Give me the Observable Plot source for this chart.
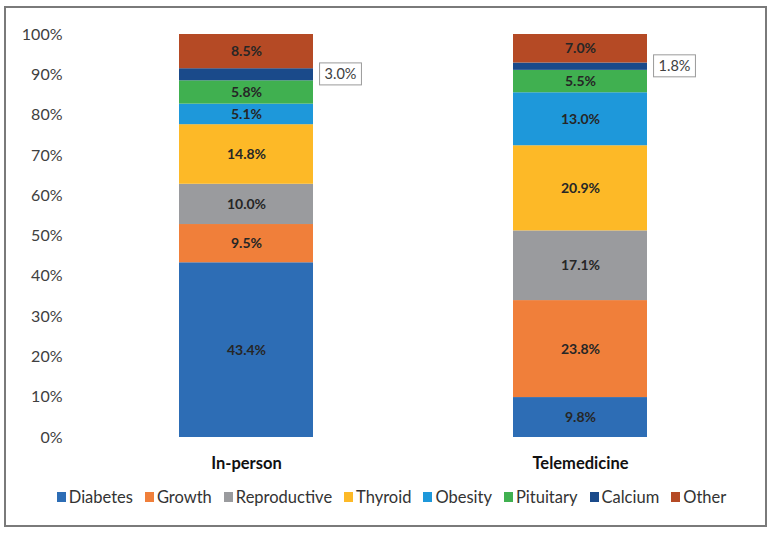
<!DOCTYPE html>
<html><head><meta charset="utf-8">
<script src="https://cdn.jsdelivr.net/npm/d3@7"></script>
<script src="https://cdn.jsdelivr.net/npm/@observablehq/plot@0.6"></script>
<style>
body{margin:0;background:#fff;font-family:Lato, "Open Sans", sans-serif;}
#frame{position:absolute;left:4px;top:6px;width:759px;height:517px;border:2px solid #7a7a7a;box-sizing:content-box;}
#chart{position:absolute;left:0;top:0;}
#legend{position:absolute;left:0;top:487px;width:783px;display:flex;justify-content:center;font-size:16.5px;color:#333;}
.item{display:flex;align-items:center;margin:0 6px;}
.sw{width:9px;height:10px;margin-right:3px;}
</style></head>
<body>
<div id="chart"></div>
<div id="frame"></div>
<div id="legend"></div>
<script>
const groups = ["In-person", "Telemedicine"];
const categories = ["Diabetes", "Growth", "Reproductive", "Thyroid", "Obesity", "Pituitary", "Calcium", "Other"];
const inPerson = [43.4, 9.5, 10.0, 14.8, 5.1, 5.8, 3.0, 8.5];
const telemedicine = [9.8, 23.8, 17.1, 20.9, 13.0, 5.5, 1.8, 7.0];
const colors = ["#2D6DB5", "#F07F3A", "#9A9B9E", "#FDB927", "#1E98DA", "#40B050", "#1A4A8A", "#B54A25"];
const yTicks = [0, 10, 20, 30, 40, 50, 60, 70, 80, 90, 100];
const boxedCategory = "Calcium";

const data = [];
categories.forEach((c, i) => data.push({group: groups[0], category: c, value: inPerson[i]}));
categories.forEach((c, i) => data.push({group: groups[1], category: c, value: telemedicine[i]}));

const stackOpts = {x: "group", y: "value", z: "category", offset: "normalize"};
const plot = Plot.plot({
  width: 773, height: 480,
  marginLeft: 79, marginRight: 26, marginTop: 34, marginBottom: 43,
  style: {fontFamily: "Lato, 'Open Sans', sans-serif", background: "transparent"},
  x: {domain: groups, paddingInner: 0.6, paddingOuter: 0.3, label: null},
  y: {domain: [0, 1], ticks: yTicks.map(t => t / 100), label: null},
  color: {domain: categories, range: colors},
  marks: [
    Plot.ruleY([0], {stroke: "#d0d0d0", strokeWidth: 1.5, x1: groups[0], x2: groups[1], insetLeft: -100, insetRight: -100}),
    Plot.barY(data, Plot.stackY({...stackOpts, fill: "category"})),
    Plot.text(data, Plot.stackY({...stackOpts, text: d => d.category === boxedCategory ? null : d.value.toFixed(1) + "%", fill: "#262626", fontWeight: "bold", fontSize: 14})),
    Plot.text(data, Plot.stackY({...stackOpts, text: d => d.category === boxedCategory ? d.value.toFixed(1) + "%" : null, fill: "#404040", fontSize: 14.5, dx: 94, className: "calc-label"})),
    Plot.axisY({ticks: yTicks.map(t => t / 100), tickFormat: d => Math.round(d * 100) + "%", tickSize: 0, tickPadding: 17, fontSize: 16, color: "#404040"}),
    Plot.axisX({tickSize: 0, tickPadding: 20, fontSize: 16.5, fontWeight: "bold", color: "#111"})
  ]
});
document.getElementById("chart").appendChild(plot);

// white boxes behind the boxed labels
plot.querySelectorAll("g.calc-label text").forEach(t => {
  const b = t.getBBox();
  const r = document.createElementNS("http://www.w3.org/2000/svg", "rect");
  r.setAttribute("x", b.x - 5); r.setAttribute("y", b.y - 2.5);
  r.setAttribute("width", b.width + 10); r.setAttribute("height", b.height + 5);
  r.setAttribute("fill", "#fff"); r.setAttribute("stroke", "#9a9a9a"); r.setAttribute("stroke-width", 1);
  if (t.getAttribute("transform")) r.setAttribute("transform", t.getAttribute("transform"));
  t.parentNode.insertBefore(r, t);
});

const legend = document.getElementById("legend");
categories.forEach((c, i) => {
  const it = document.createElement("div"); it.className = "item";
  const sw = document.createElement("div"); sw.className = "sw"; sw.style.background = colors[i];
  const tx = document.createElement("span"); tx.textContent = c;
  it.appendChild(sw); it.appendChild(tx); legend.appendChild(it);
});
</script>
</body></html>
